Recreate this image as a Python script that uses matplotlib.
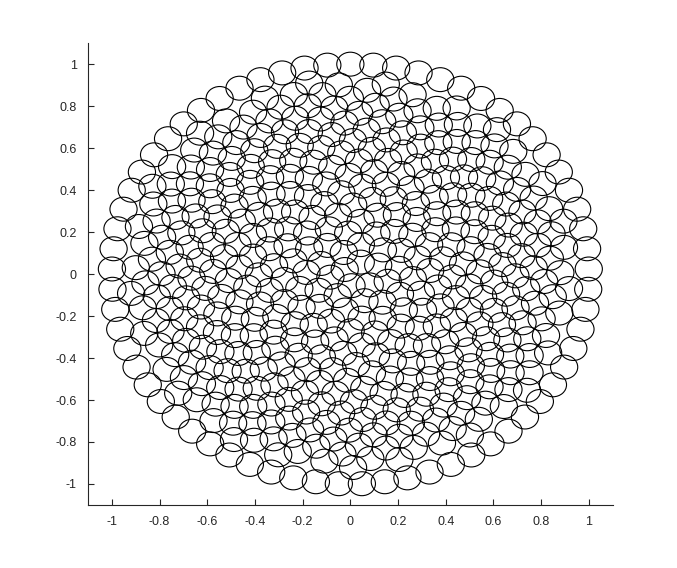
import numpy as np
import matplotlib.pyplot as plt
from matplotlib.patches import Circle
from matplotlib.collections import PatchCollection

# sunflower core plus an evenly spaced outer ring
n_inner = 420
inner_radius = 0.93
n_rim = 65
rim_radius = 1.0
circle_r = 0.057           # circle radius in data units
x_ticks = [-1, -0.8, -0.6, -0.4, -0.2, 0, 0.2, 0.4, 0.6, 0.8, 1]
y_ticks = [-1, -0.8, -0.6, -0.4, -0.2, 0, 0.2, 0.4, 0.6, 0.8, 1]

phi = (1 + np.sqrt(5)) / 2
k = np.arange(1, n_inner + 1)
r = inner_radius * np.sqrt((k - 0.5) / n_inner)
theta = 2 * np.pi * k / phi ** 2
t_rim = np.linspace(0, 2 * np.pi, n_rim, endpoint=False) + np.pi / 2
x = np.concatenate([r * np.cos(theta), rim_radius * np.cos(t_rim)])
y = np.concatenate([r * np.sin(theta), rim_radius * np.sin(t_rim)])

fig = plt.figure(figsize=(6.77, 5.68), dpi=100)
ax = fig.add_axes([0.13, 0.111, 0.775, 0.813])
circles = [Circle((cx, cy), circle_r) for cx, cy in zip(x, y)]
ax.add_collection(PatchCollection(circles, facecolor='none',
                                  edgecolor='black', linewidth=0.8))

ax.set_xlim(-1.1, 1.1)
ax.set_ylim(-1.1, 1.1)
ax.set_xticks(x_ticks)
ax.set_yticks(y_ticks)
ax.set_xticklabels([f'{v:g}' for v in x_ticks])
ax.set_yticklabels([f'{v:g}' for v in y_ticks])
for s in ['top', 'right']:
    ax.spines[s].set_visible(False)
for s in ['left', 'bottom']:
    ax.spines[s].set_color('#262626')
    ax.spines[s].set_linewidth(0.8)
ax.tick_params(direction='in', length=4, width=0.8, colors='#262626',
               labelsize=9, pad=8)
for lab in ax.get_xticklabels() + ax.get_yticklabels():
    lab.set_family('Liberation Sans')

fig.savefig('out.png', dpi=100)
